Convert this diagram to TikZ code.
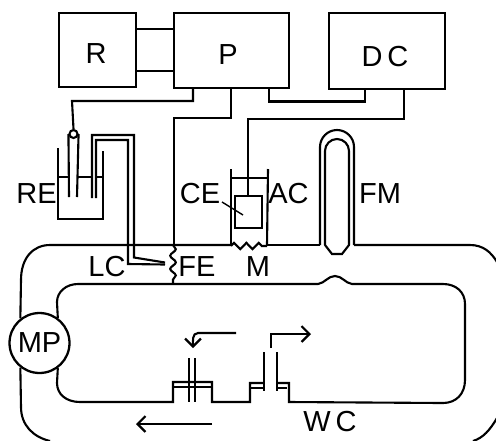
\documentclass[tikz,border=0pt]{standalone}
\usepackage{fontspec}
\setmainfont{Liberation Sans}
\usepackage{tikz}
\usetikzlibrary{arrows.meta}
\usetikzlibrary{positioning}
\usetikzlibrary{decorations.pathmorphing}
\tikzset{
	wire/.style={draw=black, line width=1.2pt},
	thin wire/.style={draw=black, line width=.8pt},
	unit/.style={draw=black, line width=1.3pt, inner sep=0pt},
	tag/.style={inner sep=0pt, font=\fontsize{16.5}{20}\selectfont},
	wavy/.style={draw=black, line width=1.2pt, decorate, decoration={snake,amplitude=1.6pt,segment length=7.5pt}},
	teeth/.style={draw=black, line width=1.2pt, decorate, decoration={zigzag,amplitude=1.8pt,segment length=7pt}},
	flow/.style={draw=black, line width=1.2pt, -{Straight Barb[length=4.5pt,width=9pt,line width=1.3pt]}},
}
\begin{document}
\begin{tikzpicture}[x=.02cm, y=-.02cm]
	\clip (0,0) rectangle (496,440);
	\node[unit, minimum width=1.54cm, minimum height=1.48cm] (R) at (97.5,50) {};
	\node[unit, minimum width=2.3cm, minimum height=1.5cm] (P) at (231.5,50.5) {};
	\node[unit, minimum width=2.32cm, minimum height=1.52cm] (DC) at (387,51) {};
	\node[unit, minimum width=.54cm, minimum height=.64cm] (CE) at (248.5,212) {};
	\node[unit, circle, minimum size=1.2cm] (MP) at (39.5,343) {};
	\node[tag] (lR) at (96,54) {R};
	\node[tag] (lP) at (228,55) {P};
	\node[tag] (lDC) at (385,57) {D\,C};
	\node[tag] (lMP) at (MP.center) {MP};
	\node[tag] (lRE) at (36.5,194) {RE};
	\node[tag] (lCE) at (200,194) {CE};
	\node[tag] (lAC) at (288.5,194) {AC};
	\node[tag] (lFM) at (380,194) {FM};
	\node[tag] (lLC) at (107,267) {LC};
	\node[tag] (lFE) at (197,267) {FE};
	\node[tag] (lM) at (258,267) {M};
	\node[tag] (lWC) at (330,422) {W\,C};

	\draw[wire] (R.east |- 0,29)--(P.west |- 0,29);
	\draw[wire] (R.east |- 0,71)--(P.west |- 0,71);

	% reference electrode
	\begin{scope}
		\node[wire, circle, inner sep=0pt, minimum size=.16cm, fill=white] (tip) at (73.5,134) {};
		\draw[wire] (P.south -| 193,0)--(193,101)--(72,101)--(tip.north);
		\draw[wire] (58,148)--(58,219)--(103,219)--(103,151);
		\draw[wire] (58,177)--(69,177) (77,177)--(92,177) (96,177)--(103,177);
		\draw[wire] (tip.west)--(69,197);
		\draw[wire] (tip.east)--(77,197);
		\draw[wire] (92,198)--(92,135)--(134,135)--(134,257.5)--(165,262.5);
		\draw[wire] (96,198)--(96,140)--(128,140)--(128,264)--(165,264.5);
	\end{scope}

	\draw[wire] (P.south -| 231,0)--(231,118)--(174,118)--(174,245);
	\draw[wavy] (173,245)--(173,284);
	\draw[wire] (P.south -| 269,0)--(269,101.5)--(365,101.5)--(DC.south -| 365,0);
	\draw[wire] (DC.south -| 404,0)--(404,119)--(248,119)--(CE.north -| 248,0);

	% auxiliary cell
	\draw[wire] (231,169)--(231,245);
	\draw[wire] (268,169)--(267,245);
	\draw[wire] (231,178)--(267,178);
	\draw[teeth] (231,246)--(267,246);

	% flow meter
	\draw[wire] (320,245)--(320,147) arc[start angle=180, end angle=0, x radius=17, y radius=-17]--(354,245);
	\draw[wire] (325,245)--(325,151) arc[start angle=180, end angle=0, x radius=12, y radius=-12]--(349,245)--(342,254)--(332,254)--(325,245);

	% outer loop
	\draw[wire] (MP.128)--(21,280) .. controls (21,258) and (33,245) .. (50,245)--(231,245);
	\draw[wire] (267,245)--(320,245);
	\draw[wire] (354,245)--(470,245) .. controls (483,245) and (491,252) .. (497,262);
	\draw[wire] (MP.232)--(21,407) .. controls (21,425) and (33,437) .. (50,441);
	\draw[wire] (473,441) .. controls (483,438) and (490,430) .. (497,418);

	% inner loop and working cell
	\draw[wire] (MP.54)--(57,302) .. controls (57,292) and (66,284) .. (78,284)--(318,284) .. controls (325,283) and (328,276) .. (335,276) .. controls (342,276) and (345,283) .. (352,284)--(443,284) .. controls (456,284) and (465,292) .. (465,304)--(465,380) .. controls (465,394) and (456,403) .. (443,403)--(289,402)--(289,383)--(276,383);
	\draw[wire] (MP.-54)--(57,383) .. controls (57,394) and (66,402) .. (80,402)--(173,402)--(173,382)--(212,382)--(212,402)--(250,402)--(250,383)--(264,383);
	\draw[thin wire] (173,387)--(212,387);
	\draw[thin wire] (250,388)--(264,388);
	\draw[thin wire] (276,388)--(287,388);
	\draw[wire] (189,358)--(189,402);
	\draw[wire] (195,358)--(195,402);
	\draw[wire] (264,352)--(264,391);
	\draw[wire] (277,352)--(277,391);

	\draw[flow] (236,333)--(198,333) to[out=180, in=90] (193,348);
	\draw[flow] (271,348)--(271,334)--(311,334);
	\draw[flow] (212,424)--(136,424);

	\draw[thin wire] (222,202)--(243,215);
\end{tikzpicture}
\end{document}
